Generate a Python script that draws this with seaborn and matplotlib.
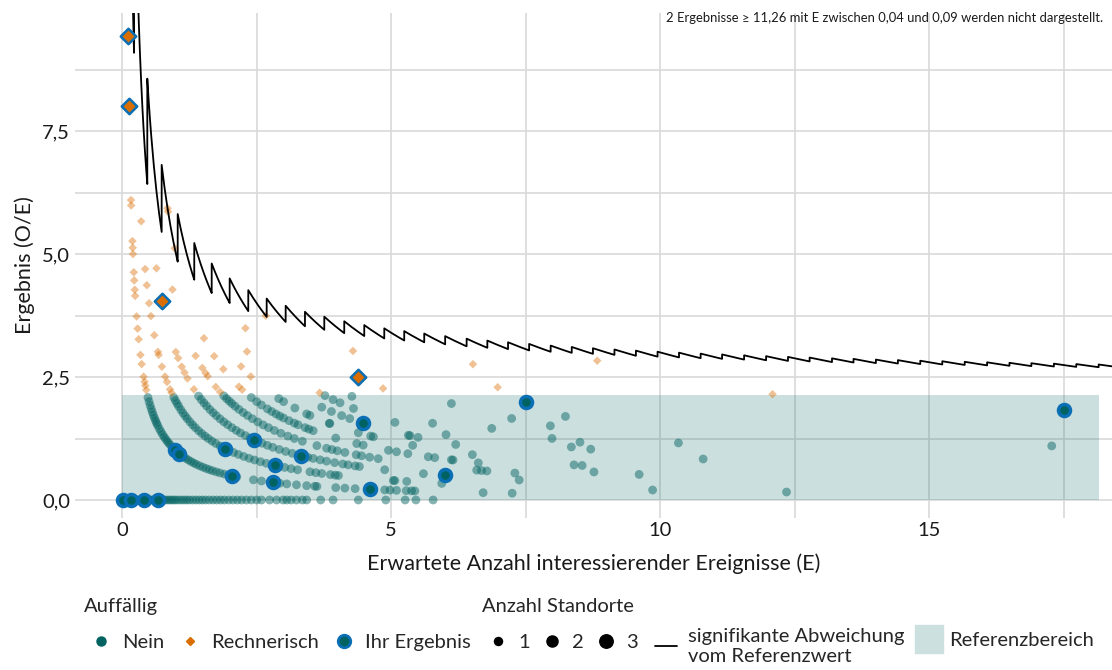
import numpy as np
import pandas as pd
import seaborn as sns
import matplotlib.pyplot as plt
from matplotlib.lines import Line2D

# Referenzbereich (O/E) und sichtbarer E-Bereich
ref_upper = 2.13
ref_x = [0, 18.16]

# erwartete Anzahl E je Standort, getrennt nach beobachteter Anzahl O
e_o0 = [0.02, 0.04, 0.06, 0.08, 0.1, 0.12, 0.14, 0.17, 0.19, 0.21, 0.23, 0.26, 0.28, 0.31, 0.33,
        0.36, 0.39, 0.41, 0.44, 0.47, 0.5, 0.53, 0.56, 0.59, 0.62, 0.66, 0.69, 0.72, 0.76, 0.8,
        0.84, 0.88, 0.92, 0.96, 1.0, 1.05, 1.1, 1.15, 1.2, 1.25, 1.31, 1.37, 1.43, 1.49, 1.55,
        1.62, 1.69, 1.76, 1.83, 1.9, 1.98, 2.06, 2.14, 2.22, 2.31, 2.4, 2.5, 2.59, 2.74, 2.87,
        2.99, 3.06, 3.14, 3.24, 3.35, 3.43, 3.69, 3.92, 4.39, 4.9, 5.26, 5.46, 5.78]
e_o1 = [0.164, 0.167, 0.19, 0.195, 0.2, 0.216, 0.224, 0.234, 0.241, 0.268, 0.287, 0.306, 0.339,
        0.362, 0.399, 0.416, 0.43, 0.447,
        0.48, 0.5, 0.52, 0.54, 0.56, 0.58, 0.6, 0.62, 0.64, 0.66, 0.69, 0.72, 0.75, 0.78, 0.81,
        0.84, 0.87, 0.9, 0.94, 0.98, 1.02, 1.06, 1.1, 1.14, 1.18, 1.23, 1.28, 1.33, 1.38, 1.44,
        1.5, 1.56, 1.62, 1.68, 1.75, 1.82, 1.9, 1.98, 2.06, 2.13,
        2.44, 2.59, 2.93, 3.06, 3.24, 3.43, 3.58, 3.62, 3.97, 4.14, 4.33, 4.88, 4.98, 5.1, 5.28,
        5.38, 5.44, 6.71, 7.25]
e_o2 = [0.353, 0.426, 0.458, 0.5, 0.535, 0.597, 0.664, 0.678, 0.738, 0.797, 0.833, 0.889, 0.917,
        0.96, 0.99, 1.02, 1.05, 1.09, 1.13, 1.17, 1.21, 1.26, 1.31, 1.36, 1.42, 1.48, 1.54, 1.6,
        1.67, 1.74, 1.82, 1.9, 1.98, 2.07, 2.16, 2.26, 2.36, 2.46, 2.57, 2.68, 2.79, 2.9, 3.02,
        3.14, 3.26,
        3.49, 3.6, 3.71, 3.87, 3.96, 4.02, 5.04, 5.07, 5.29, 5.94, 9.86, 12.35]
e_o3 = [0.637, 0.997, 1.04, 1.107, 1.158, 1.214, 1.333,
        1.42, 1.47, 1.52, 1.57, 1.63, 1.69, 1.75, 1.82, 1.89, 1.96, 2.04, 2.12, 2.2, 2.29, 2.38,
        2.5, 2.6, 2.7, 2.8, 2.92, 3.04, 3.16, 3.28, 3.45, 3.55,
        3.68, 3.8, 3.95, 4.1, 4.2, 4.33, 4.41, 4.88, 5.6, 7.38]
e_o4 = [0.935, 1.365, 1.49, 1.55, 1.59, 1.74, 1.82,
        1.89, 1.94, 1.99, 2.04, 2.1, 2.17, 2.25, 2.33, 2.42, 2.52, 2.62, 2.72, 2.83, 2.95, 3.08,
        3.2, 3.35,
        3.62, 3.8, 3.9, 4.0, 4.14, 4.35, 4.45, 4.6, 4.76, 6.59, 6.68, 6.78, 7.3]
e_o5 = [0.843, 0.853, 0.977, 1.52, 1.71, 1.88, 2.17, 2.23,
        2.4, 2.5, 2.59, 2.7, 2.78, 2.86, 2.93, 3.0, 3.1, 3.2, 3.27, 3.4, 3.47, 3.55,
        3.97, 4.36, 4.48, 4.95, 5.1, 5.31, 5.69, 5.81, 6.12, 6.15, 6.62, 8.77, 9.61]
e_o6 = [2.21, 2.39, 2.91, 3.0, 3.21, 3.43, 3.49, 3.85, 3.86, 4.39, 4.62, 4.67, 5.4, 6.51, 8.4, 8.55]

# Standorte mit O >= 7
o_hi = [7, 7, 7, 7, 7, 7, 7, 7, 7,
        8, 8, 8, 8, 8, 8, 8, 8,
        9, 9, 9, 9, 9,
        10, 10, 10, 10,
        11, 12, 12, 12, 12, 13, 14, 16, 18, 19, 25, 26]
e_hi = [2.32, 3.71, 3.89, 4.08, 4.23, 5.32, 5.35, 5.5, 6.2,
        2.29, 3.67, 3.77, 3.92, 4.05, 4.3, 5.07, 6.02,
        4.27, 5.77, 8.35, 8.71, 10.8,
        2.67, 6.87, 7.99, 8.51,
        4.85, 6.12, 7.24, 7.96, 10.34, 4.29, 8.24, 6.98, 6.52, 17.28, 8.83, 12.09]

# eigene Ergebnisse
ie_e = [0.01, 0.16, 0.41, 0.66, 0.98, 1.06, 1.92, 2.05, 2.45, 2.84, 2.81, 3.32, 4.48, 4.6,
        6.01, 7.51, 17.5, 0.106, 0.125, 0.742, 4.39]
ie_o = [0, 0, 0, 0, 1, 1, 2, 1, 3, 2, 1, 3, 7, 1, 3, 15, 32, 1, 1, 3, 11]

# Grenze signifikante Abweichung: E-Werte, an denen die kritische Anzahl um 1 steigt
crit_start = 2
jump_e = [0.22, 0.467, 0.734, 1.032, 1.340, 1.664, 1.998, 2.344, 2.686, 3.039, 3.398, 3.757,
          4.128, 4.500, 4.872, 5.243, 5.615, 6.004, 6.403, 6.788, 7.173, 7.565, 7.965, 8.357,
          8.751, 9.151, 9.550, 9.952, 10.351, 10.753, 11.152, 11.561, 11.970, 12.377, 12.779,
          13.195, 13.595, 14.011, 14.420, 14.836, 15.245, 15.662, 16.078, 16.494, 16.901,
          17.320, 17.736, 18.152]

rows = []
for o, es in enumerate([e_o0, e_o1, e_o2, e_o3, e_o4, e_o5, e_o6]):
    rows += [(e, o) for e in es]
rows += list(zip(e_hi, o_hi))
df = pd.DataFrame(rows, columns=['E', 'O'])
df['OE'] = df['O'] / df['E']
df['auffaellig'] = np.where(df['OE'] > ref_upper, 'Rechnerisch', 'Nein')

ie = pd.DataFrame({'E': ie_e, 'O': ie_o})
ie['OE'] = ie['O'] / ie['E']
ie['auffaellig'] = np.where(ie['OE'] > ref_upper, 'Rechnerisch', 'Nein')

teal = '#006361'
orange = '#d96d00'
blue = '#0a6fb4'
band_col = '#cce0df'
txt = '#1a1a1a'

sns.set_theme(style='white')
plt.rcParams['font.family'] = ['Lato', 'DejaVu Sans']

fig = plt.figure(figsize=(11.12, 6.70), dpi=100)
ax = fig.add_axes([75 / 1112, 152 / 670, 1037 / 1112, 505.5 / 670])

ax.fill_between(ref_x, [0, 0], [ref_upper, ref_upper], color=teal, alpha=0.2, lw=0, zorder=1)

sns.scatterplot(data=df[df['auffaellig'] == 'Nein'], x='E', y='OE', color=teal, alpha=0.48,
                s=40, edgecolor='none', legend=False, ax=ax, zorder=2)
sns.scatterplot(data=df[df['auffaellig'] == 'Rechnerisch'], x='E', y='OE', color=orange,
                marker='D', alpha=0.42, s=19, edgecolor='none', legend=False, ax=ax, zorder=2)

# Sägezahn-Grenze
starts = [0.15] + jump_e
ends = jump_e + [18.6]
xs, ys = [], []
for c, (a, b) in enumerate(zip(starts, ends), start=crit_start):
    e = np.linspace(a, b, 12)
    xs.extend(e)
    ys.extend(c / e)
ax.plot(xs, ys, color='black', lw=1.3, zorder=3)

sns.scatterplot(data=ie[ie['auffaellig'] == 'Nein'], x='E', y='OE', color=teal, s=75,
                edgecolor=blue, linewidth=2.5, legend=False, ax=ax, zorder=4)
sns.scatterplot(data=ie[ie['auffaellig'] == 'Rechnerisch'], x='E', y='OE', color=orange,
                marker='D', s=62, edgecolor=blue, linewidth=1.8, legend=False, ax=ax, zorder=4)

ax.set_xlim(-0.877, 18.4)
ax.set_ylim(-0.366, 9.91)
ax.set_xticks([0, 5, 10, 15])
ax.set_xticklabels(['0', '5', '10', '15'])
ax.set_xticks([2.5, 7.5, 12.5, 17.5], minor=True)
ax.set_yticks([0, 2.5, 5, 7.5])
ax.set_yticklabels(['0,0', '2,5', '5,0', '7,5'])
ax.set_yticks([1.25, 3.75, 6.25, 8.75], minor=True)
ax.grid(True, which='both', color='#d9d9d9', lw=1.2)
ax.set_axisbelow(True)
for sp in ax.spines.values():
    sp.set_visible(False)
ax.tick_params(which='both', length=0, labelsize=14.5, colors=txt)
ax.tick_params(axis='y', pad=3.5)
ax.tick_params(axis='x', pad=3)

ax.set_xlabel('Erwartete Anzahl interessierender Ereignisse (E)', fontsize=15.5, color=txt)
ax.set_ylabel('Ergebnis (O/E)', fontsize=15.5, color=txt)
ax.xaxis.set_label_coords(0.5, -0.071)
ax.yaxis.set_label_coords(-0.039, 0.5)

fig.text(1103 / 1112, 1 - 18 / 670,
         '2 Ergebnisse ≥ 11,26 mit E zwischen 0,04 und 0,09 werden nicht dargestellt.',
         ha='right', va='center', fontsize=9.4, color=txt)

leg_kw = dict(frameon=False, fontsize=14.5, title_fontsize=14.5, handlelength=1.7,
              handletextpad=0.2, columnspacing=0.4, borderpad=0, borderaxespad=0,
              labelspacing=0.95, alignment='left', loc='upper left')
h1 = [Line2D([], [], ls='', marker='o', ms=6.5, color=teal),
      Line2D([], [], ls='', marker='D', ms=4.5, color=orange),
      Line2D([], [], ls='', marker='o', ms=9, mfc=teal, mec=blue, mew=2)]
fig.legend(h1, ['Nein', 'Rechnerisch', 'Ihr Ergebnis'], ncol=3, title='Auffällig',
           bbox_to_anchor=(84 / 1112, 1 - 598 / 670), **leg_kw)
h2 = [Line2D([], [], ls='', marker='o', ms=ms, color='black') for ms in (5.8, 8, 9.7)]
fig.legend(h2, ['1', '2', '3'], ncol=3, title='Anzahl Standorte',
           bbox_to_anchor=(482 / 1112, 1 - 598 / 670),
           **dict(leg_kw, handlelength=1.6, columnspacing=0.3))
h3 = [Line2D([], [], color='black', lw=1.3)]
fig.legend(h3, ['signifikante Abweichung\nvom Referenzwert'],
           bbox_to_anchor=(655 / 1112, 1 - 628 / 670),
           **dict(leg_kw, handlelength=1.1, handletextpad=0.55))
h4 = [Line2D([], [], ls='', marker='s', ms=20, color=band_col)]
fig.legend(h4, ['Referenzbereich'], bbox_to_anchor=(914 / 1112, 1 - 640 / 670),
           **dict(leg_kw, loc='center left', handlelength=1.45, handletextpad=0.3))

fig.savefig('out.png', dpi=100)
